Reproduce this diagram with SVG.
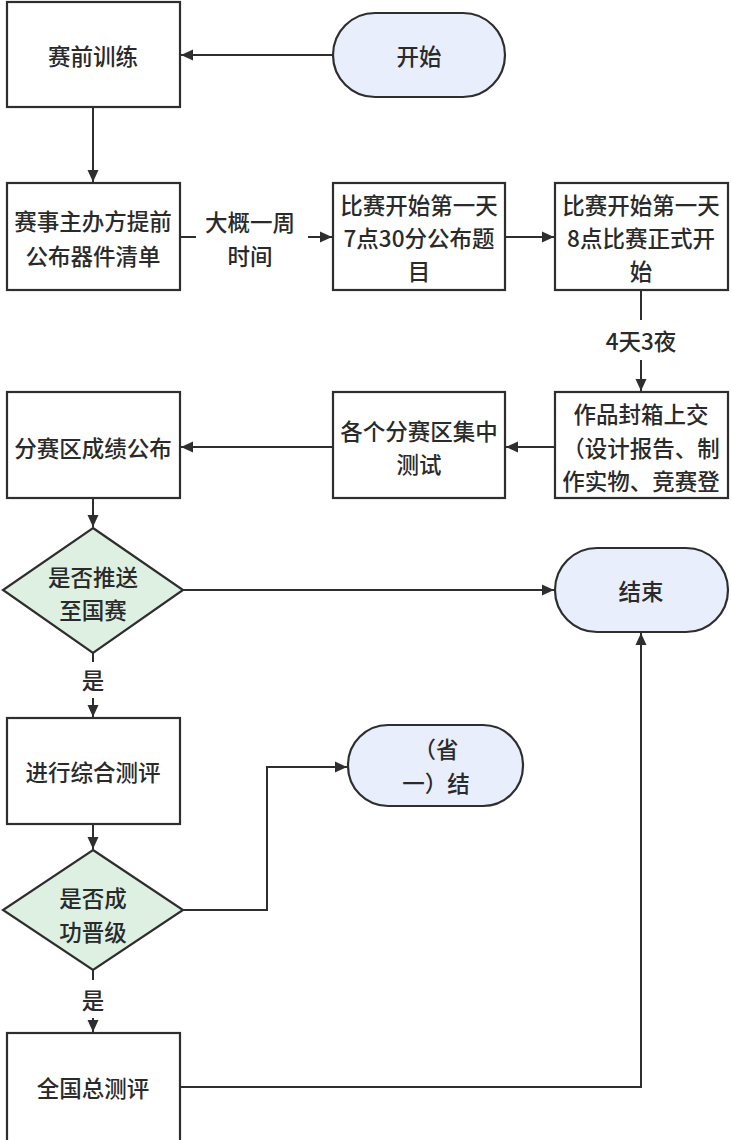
<svg xmlns="http://www.w3.org/2000/svg" width="731" height="1140" viewBox="0 0 731 1140">
<style>
.box{fill:#ffffff;stroke:#2e2e2e;stroke-width:2.2}
.pill{fill:#e9eefd;stroke:#2e2e2e;stroke-width:2.2}
.dia{fill:#ddf0e2;stroke:#2e2e2e;stroke-width:2.2}
.edge{fill:none;stroke:#2e2e2e;stroke-width:2}
text{font-family:"Noto Sans CJK SC","Noto Sans",sans-serif;font-size:22.5px;font-weight:500;fill:#2a2a2a;text-anchor:middle;dominant-baseline:central}
.lbl{fill:#fff;stroke:none}
</style>
<defs>
<marker id="arr" markerUnits="userSpaceOnUse" markerWidth="14" markerHeight="14" viewBox="0 0 14 14" refX="13" refY="7" orient="auto">
<path d="M1,1.5 L13,7 L1,12.5 Z" fill="#2e2e2e"/>
</marker>
<clipPath id="pillclip"><rect x="348" y="725" width="176" height="81"/></clipPath>
</defs>
<rect width="731" height="1140" fill="#ffffff"/>
<g id="edges">
<path class="edge" d="M333,55 H181" marker-end="url(#arr)"/>
<path class="edge" d="M93,107 V182" marker-end="url(#arr)"/>
<path class="edge" d="M180,237 H332" marker-end="url(#arr)"/>
<rect class="lbl" x="196" y="204" width="112" height="68"/>
<text x="250" y="221">大概一周</text>
<text x="250" y="255">时间</text>
<path class="edge" d="M505,237 H554" marker-end="url(#arr)"/>
<path class="edge" d="M641,290 V391" marker-end="url(#arr)"/>
<rect class="lbl" x="600" y="320" width="82" height="40"/>
<text x="641" y="340">4天3夜</text>
<path class="edge" d="M555,447 H506" marker-end="url(#arr)"/>
<path class="edge" d="M333,447 H181" marker-end="url(#arr)"/>
<path class="edge" d="M93,498 V527" marker-end="url(#arr)"/>
<path class="edge" d="M183,590 H554" marker-end="url(#arr)"/>
<path class="edge" d="M93,653 V717" marker-end="url(#arr)"/>
<rect class="lbl" x="78" y="662" width="30" height="36"/>
<text x="93" y="679">是</text>
<path class="edge" d="M93,824 V849" marker-end="url(#arr)"/>
<path class="edge" d="M183,910 H267 V767 H347" marker-end="url(#arr)"/>
<path class="edge" d="M93,970 V1032" marker-end="url(#arr)"/>
<rect class="lbl" x="78" y="980" width="30" height="38"/>
<text x="93" y="999">是</text>
<path class="edge" d="M180,1087 H641 V633" marker-end="url(#arr)"/>
</g>
<g id="n_train"><rect class="box" x="7" y="2" width="173" height="105"/><text x="93" y="55">赛前训练</text></g>
<g id="n_start"><rect class="pill" x="333" y="13" width="172" height="84" rx="42"/><text x="419" y="55">开始</text></g>
<g id="n_list"><rect class="box" x="7" y="183" width="173" height="107"/><text x="93" y="220">赛事主办方提前</text><text x="93" y="255">公布器件清单</text></g>
<g id="n_topic"><rect class="box" x="333" y="183" width="172" height="107"/><text x="419" y="204">比赛开始第一天</text><text x="419" y="237">7点30分公布题</text><text x="419" y="270">目</text></g>
<g id="n_begin"><rect class="box" x="555" y="183" width="173" height="107"/><text x="641" y="204">比赛开始第一天</text><text x="641" y="237">8点比赛正式开</text><text x="641" y="270">始</text></g>
<g id="n_submit"><rect class="box" x="555" y="392" width="173" height="106"/><text x="641" y="413">作品封箱上交</text><text x="641" y="447">（设计报告、制</text><text x="641" y="480">作实物、竞赛登</text></g>
<g id="n_test"><rect class="box" x="333" y="392" width="172" height="106"/><text x="419" y="430">各个分赛区集中</text><text x="419" y="463">测试</text></g>
<g id="n_score"><rect class="box" x="7" y="392" width="173" height="106"/><text x="93" y="447">分赛区成绩公布</text></g>
<g id="n_push"><polygon class="dia" points="93,528 183,590 93,653 3,590"/><text x="93" y="576">是否推送</text><text x="93" y="609">至国赛</text></g>
<g id="n_end"><rect class="pill" x="555" y="548" width="173" height="84" rx="42"/><text x="641" y="590">结束</text></g>
<g id="n_eval"><rect class="box" x="7" y="718" width="173" height="106"/><text x="93" y="771">进行综合测评</text></g>
<g id="n_pass"><polygon class="dia" points="93,850 183,910 93,970 3,910"/><text x="93" y="897">是否成</text><text x="93" y="931">功晋级</text></g>
<g id="n_prov"><rect class="pill" x="348" y="725" width="175" height="81" rx="40"/><g clip-path="url(#pillclip)"><text x="436" y="748">（省</text><text x="436" y="782">一）结</text><text x="436" y="818">束</text></g></g>
<g id="n_nat"><rect class="box" x="7" y="1033" width="173" height="112"/><text x="93" y="1087">全国总测评</text></g>
</svg>
